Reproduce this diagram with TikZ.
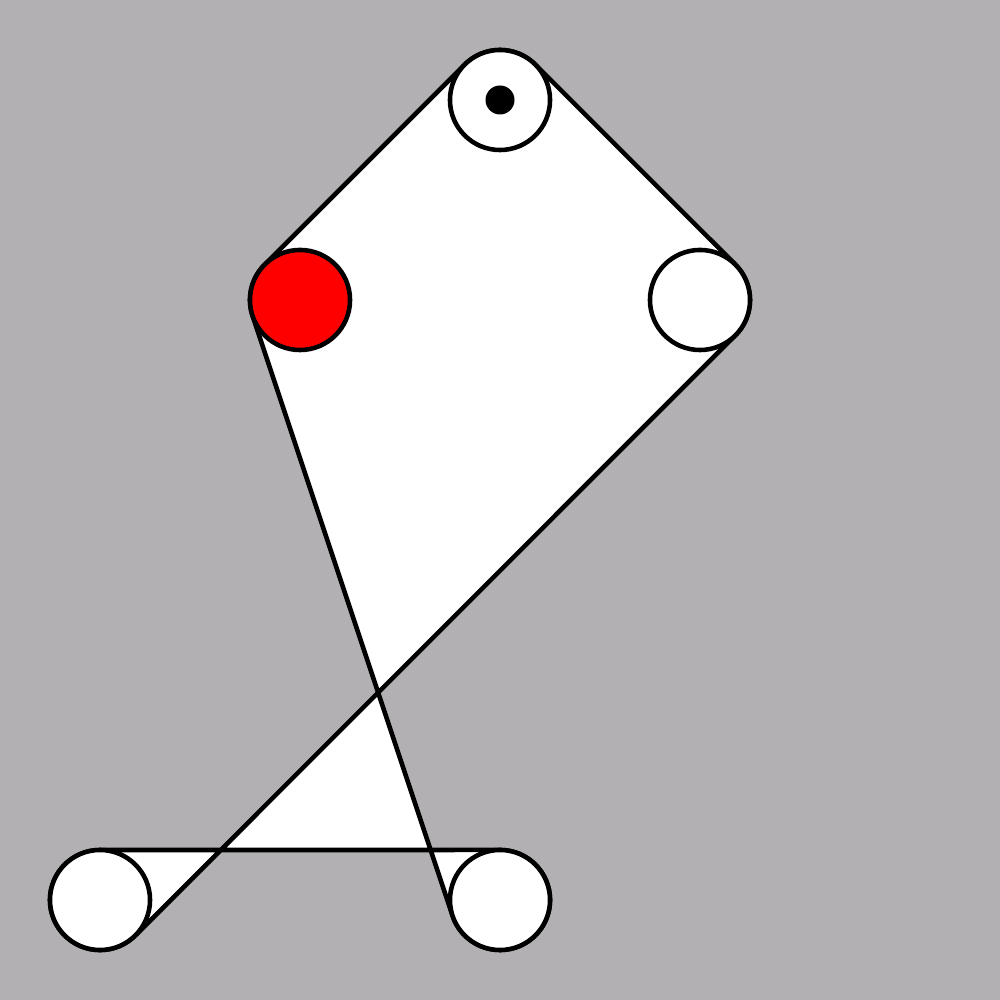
\documentclass[tikz,border=0pt]{standalone}
\usetikzlibrary{calc}
\definecolor{bg}{HTML}{B2B0B3}
\begin{document}
\begin{tikzpicture}[x=0.01cm,y=0.01cm,
  pulley/.style={circle,draw=black,fill=white,minimum size=1cm,inner sep=0pt,outer sep=0pt,line width=1.3pt},
  belt/.style={draw=black,fill=white,even odd rule,line width=1.3pt,line join=round}]
\fill[bg] (0,0) rectangle (1000,1000);
\useasboundingbox (0,0) rectangle (1000,1000);
\coordinate (T) at (500,900);
\coordinate (L) at (300,700);
\coordinate (R) at (700,700);
\coordinate (BL) at (100,100);
\coordinate (BR) at (500,100);
\path[belt] ($(T)+(135:50)$) -- ($(L)+(135:50)$)
  arc[start angle=135,end angle=198.43,radius=5mm]
  -- ($(BR)+(198.43:50)$)
  arc[start angle=198.43,end angle=450,radius=5mm]
  -- ($(BL)+(90:50)$)
  arc[start angle=90,end angle=315,radius=5mm]
  -- ($(R)+(315:50)$)
  arc[start angle=-45,end angle=45,radius=5mm]
  -- ($(T)+(45:50)$)
  arc[start angle=45,end angle=135,radius=5mm] -- cycle;
\node[pulley] (pT) at (T) {};
\node[pulley,fill=red] (pL) at (L) {};
\node[pulley] (pR) at (R) {};
\node[pulley] (pBL) at (BL) {};
\node[pulley] (pBR) at (BR) {};
\node[circle,fill=black,minimum size=0.29cm,inner sep=0pt] (dot) at (T) {};
\end{tikzpicture}
\end{document}
